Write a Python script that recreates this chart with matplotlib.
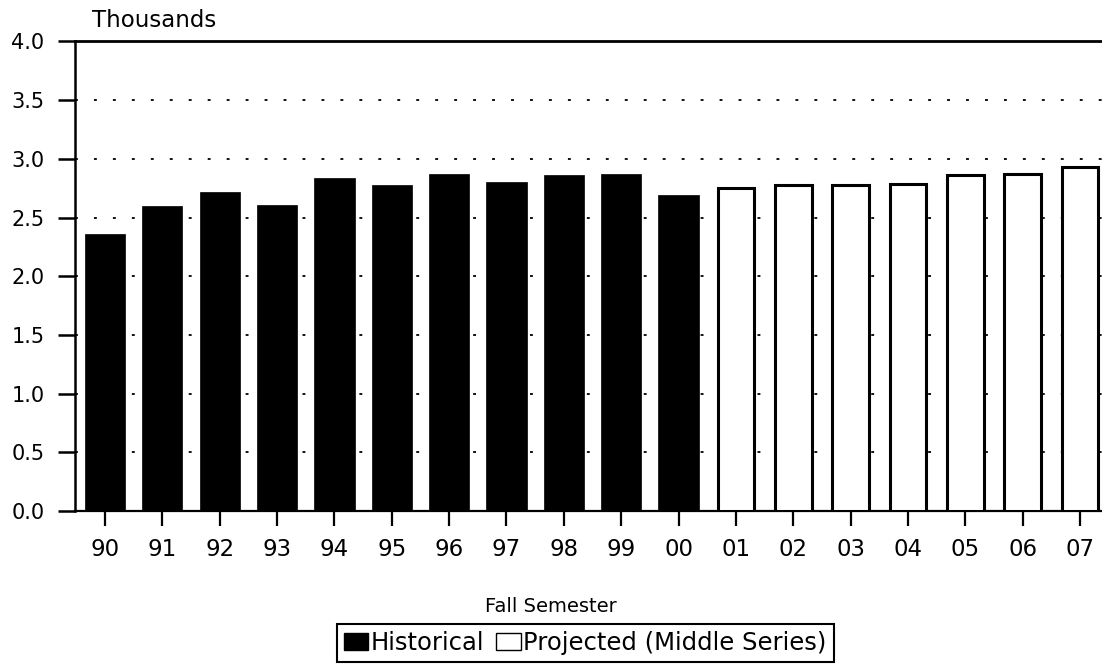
import matplotlib
matplotlib.use("Agg")
import matplotlib.pyplot as plt
from matplotlib.patches import Patch

plt.rcParams['font.family'] = ['DejaVu Sans']

years = ["90", "91", "92", "93", "94", "95", "96", "97", "98", "99", "00",
         "01", "02", "03", "04", "05", "06", "07"]
historical = [2.36, 2.60, 2.72, 2.61, 2.84, 2.78, 2.87, 2.80, 2.86, 2.87, 2.69]
projected = [2.75, 2.78, 2.78, 2.79, 2.86, 2.87, 2.93]
yticks = [0.0, 0.5, 1.0, 1.5, 2.0, 2.5, 3.0, 3.5, 4.0]

fig = plt.figure(figsize=(11.02, 6.65), dpi=100)
ax = fig.add_axes([0.0681, 0.2316, 0.9319, 0.706])

n_hist = len(historical)
x_hist = list(range(n_hist))
x_proj = list(range(n_hist, n_hist + len(projected)))

ax.bar(x_hist, historical, width=0.70, color="black", edgecolor="black",
       linewidth=0.5, zorder=3)
ax.bar(x_proj, projected, width=0.64, color="white", edgecolor="black",
       linewidth=2.2, zorder=3)

ax.set_xlim(-0.523, 17.384)
ax.set_ylim(0, 4.0)
ax.set_yticks(yticks)
ax.set_yticklabels([f"{v:.1f}" for v in yticks], fontsize=15)
ax.set_xticks(range(len(years)))
ax.set_xticklabels(years, fontsize=16.5)

ax.yaxis.grid(True, linestyle=(0, (1.6, 8.9)), linewidth=1.3, color="black")
ax.set_axisbelow(True)

ax.spines['right'].set_visible(False)
ax.spines['top'].set_linewidth(2.0)
ax.spines['left'].set_linewidth(1.8)
ax.spines['bottom'].set_linewidth(1.6)

ax.tick_params(axis='y', length=12, width=1.8, direction='out', pad=10)
ax.tick_params(axis='x', length=11, width=1.6, direction='out', pad=8.5)

fig.text(0.0835, 0.9598, "Thousands", fontsize=16.5, va="baseline", ha="left")
fig.text(0.5, 0.0887, "Fall Semester", fontsize=14, va="center", ha="center")

handles = [Patch(facecolor="black", edgecolor="black", label="Historical"),
           Patch(facecolor="white", edgecolor="black", linewidth=1.0,
                 label="Projected (Middle Series)")]
leg = fig.legend(handles=handles, loc="upper center",
                 bbox_to_anchor=(0.531, 0.062), ncol=2, fontsize=17.5,
                 frameon=True, fancybox=False, shadow=False,
                 handlelength=1.0, handleheight=0.7, handletextpad=0.1,
                 columnspacing=0.5, borderpad=0.3, borderaxespad=0)
leg.get_frame().set_edgecolor("black")
leg.get_frame().set_linewidth(1.5)
leg.get_frame().set_alpha(1)

fig.savefig("out.png", dpi=100)
